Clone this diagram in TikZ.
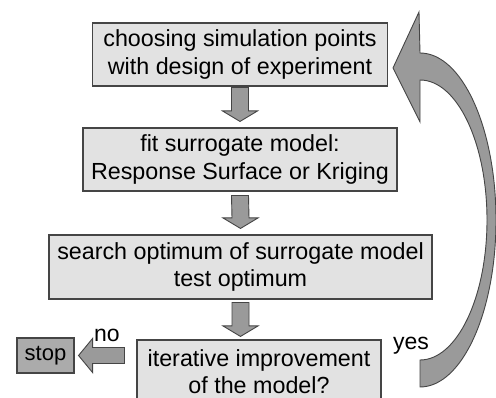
\documentclass[tikz,border=0pt]{standalone}
\usepackage{fontspec}
\setmainfont{Liberation Sans}
\usetikzlibrary{calc}
\definecolor{boxfill}{HTML}{E2E2E2}
\definecolor{stopfill}{HTML}{ABABAB}
\definecolor{arrfill}{HTML}{9A9A9A}
\definecolor{edgecol}{HTML}{454545}
\begin{document}
\begin{tikzpicture}[x=1pt,y=-1pt,
  box/.style={draw=edgecol, fill=boxfill, line width=1.1pt, inner sep=0pt, align=center,
    font=\fontsize{23.3}{27.5}\selectfont},
  blk/.style={draw=edgecol, fill=arrfill, line width=0.9pt, line join=miter},
  lbl/.style={font=\fontsize{23}{27}\selectfont, inner sep=0pt, anchor=base west}]
\useasboundingbox (0,0) rectangle (496,398);
\clip (0,0) rectangle (496,398);
\node[box, minimum width=295pt, minimum height=63pt] (b1) at (240,54.5)
  {choosing simulation points\\with design of experiment};
\node[box, minimum width=314pt, minimum height=63pt] (b2) at (240,159.5)
  {fit surrogate model:\\Response Surface or Kriging};
\node[box, minimum width=383pt, minimum height=64pt] (b3) at (240.5,267)
  {search optimum of surrogate model\\test optimum};
\node[box, minimum width=244pt, minimum height=63pt] (b4) at (259,371.5)
  {iterative improvement\\of the model?};
\node[box, fill=stopfill, minimum width=57pt, minimum height=35pt,
  font=\fontsize{22}{26}\selectfont] (stop) at (45.5,355.5) {stop};
% block arrows down
\newcommand{\blkdown}[2]{%
  \draw[blk] ($(#1)+(-8.5,0)$) -- ($(#2)+(-8.5,-10.5)$) -- ($(#2)+(-17.5,-10.5)$) -- (#2)
    -- ($(#2)+(17.5,-10.5)$) -- ($(#2)+(8.5,-10.5)$) -- ($(#1)+(8.5,0)$) -- cycle;}
\coordinate (a1s) at ($(b1.south)+(0,1)$);
\coordinate (a1e) at ($(b2.north)+(0,-6)$);
\coordinate (a2s) at ($(b2.south)+(0,4)$);
\coordinate (a2e) at ($(b3.north)+(0,-6)$);
\coordinate (a3s) at ($(b3.south)+(0,3)$);
\coordinate (a3e) at ($(b3.south |- b4.north)+(0,-3)$);
\blkdown{a1s}{a1e}
\blkdown{a2s}{a2e}
\blkdown{a3s}{a3e}
% no arrow
\coordinate (ns) at ($(b4.west |- stop.east)+(-12,0)$);
\coordinate (ne) at ($(stop.east)+(4,0)$);
\draw[blk] ($(ns)+(0,-8)$) -- ($(ne)+(14,-8)$) -- ($(ne)+(14,-17)$) -- (ne)
  -- ($(ne)+(14,17)$) -- ($(ne)+(14,8)$) -- ($(ns)+(0,8)$) -- cycle;
\node[lbl] (no) at (94,342) {no};
\node[lbl] (yes) at (393,350) {yes};
% curved yes arrow
\draw[blk] (393,68) -- (419,12) -- (420,53)
  arc[start angle=90, end angle=-90, x radius=76pt, y radius=167pt]
  -- (420,360)
  arc[start angle=-90, end angle=90, x radius=67pt, y radius=140pt]
  -- (420,122) -- cycle;
\end{tikzpicture}
\end{document}
